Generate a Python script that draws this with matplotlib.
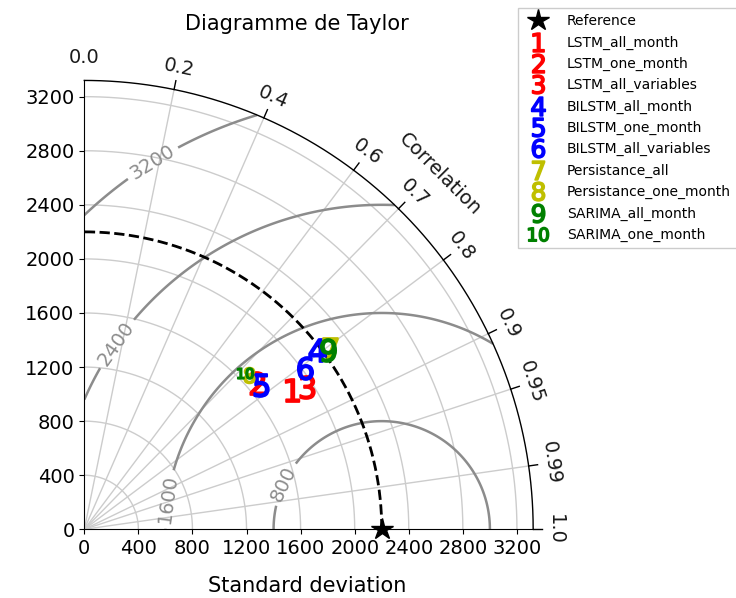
import numpy as np
import matplotlib
matplotlib.use("Agg")
import matplotlib.pyplot as plt
from matplotlib.lines import Line2D

ref_std = 2200.0
axis_max = 3320.0
model_names = ["LSTM_all_month", "LSTM_one_month", "LSTM_all_variables",
               "BILSTM_all_month", "BILSTM_one_month", "BILSTM_all_variables",
               "Persistance_all", "Persistance_one_month",
               "SARIMA_all_month", "SARIMA_one_month"]
model_std = [1848, 1672, 1955, 2173, 1685, 2019, 2251, 1671, 2240, 1655]
model_cor = [0.830, 0.764, 0.842, 0.792, 0.774, 0.808, 0.806, 0.731, 0.806, 0.717]
model_colors = ["r", "r", "r", "b", "b", "b", "y", "y", "g", "g"]

std_ticks = [0, 400, 800, 1200, 1600, 2000, 2400, 2800, 3200]
cor_ticks = [0.0, 0.2, 0.4, 0.6, 0.7, 0.8, 0.9, 0.95, 0.99, 1.0]
rms_levels = [800, 1600, 2400, 3200]
rms_label_angles = [155, 172, 145, 122]  # angle (deg) autour de la reference

fig = plt.figure(figsize=(7.36, 5.98), dpi=100)
lim = 3400
scale = 0.1352  # px par unite
ax = fig.add_axes([84.3 / 736, (598 - 529.3) / 598, lim * scale / 736, lim * scale / 598])
ax.set_xlim(0, lim)
ax.set_ylim(0, lim)
ax.spines["top"].set_visible(False)
ax.spines["right"].set_visible(False)
ax.spines["left"].set_bounds(0, axis_max)
ax.spines["bottom"].set_bounds(0, axis_max)
ax.set_xticks(std_ticks)
ax.set_yticks(std_ticks)
ax.tick_params(labelsize=14)

theta = np.linspace(0, np.pi / 2, 300)

# arcs d'ecart type
for s in std_ticks[1:]:
    ax.plot(s * np.cos(theta), s * np.sin(theta), color="0.8", lw=1, zorder=1)

# lignes de correlation
for c in cor_ticks[1:-1]:
    a = np.arccos(c)
    ax.plot([0, axis_max * np.cos(a)], [0, axis_max * np.sin(a)], color="0.8", lw=1, zorder=1)

# contours RMSD
rho = np.linspace(0, axis_max, 300)
R, T = np.meshgrid(rho, theta)
X = R * np.cos(T)
Y = R * np.sin(T)
rms = np.sqrt(ref_std ** 2 + R ** 2 - 2 * ref_std * R * np.cos(T))
cs = ax.contour(X, Y, rms, levels=rms_levels, colors="0.55", linewidths=1.8, zorder=2)
pos = [(ref_std + l * np.cos(np.radians(a)), l * np.sin(np.radians(a)))
       for l, a in zip(rms_levels, rms_label_angles)]
ax.clabel(cs, inline=True, fontsize=14, fmt="%d", manual=pos)

# arc exterieur et graduations de correlation
ax.plot(axis_max * np.cos(theta), axis_max * np.sin(theta), color="k", lw=1, clip_on=False)
for c in cor_ticks:
    a = np.arccos(c)
    if c > 0:
        ax.plot([axis_max * np.cos(a), 1.02 * axis_max * np.cos(a)],
                [axis_max * np.sin(a), 1.02 * axis_max * np.sin(a)],
                color="k", lw=1, clip_on=False)
    ax.text(1.05 * axis_max * np.cos(a), 1.05 * axis_max * np.sin(a), "%g" % c if c not in (0, 1) else "%.1f" % c,
            rotation=np.degrees(a) - 90, ha="center", va="center", fontsize=14, color="0.1")
ax.text(1.12 * axis_max * np.cos(np.pi / 4), 1.12 * axis_max * np.sin(np.pi / 4), "Correlation",
        rotation=-45, ha="center", va="center", fontsize=14, color="0.1")

# arc de la reference
ax.plot(ref_std * np.cos(theta), ref_std * np.sin(theta), "k--", lw=2, zorder=3)
ax.plot(ref_std, 0, "k*", ms=16, clip_on=False, zorder=6)

# modeles
for i, (s, c, col) in enumerate(zip(model_std, model_cor, model_colors)):
    ms = 16.5 if i not in (7, 9) else 11.3
    ax.plot(s * c, s * np.sqrt(1 - c ** 2), marker="$%d$" % (i + 1), color=col,
            ms=ms, mew=1.3, ls="none", zorder=5)

handles = [Line2D([], [], marker="*", color="k", ms=16, ls="none")]
for i, col in enumerate(model_colors):
    handles.append(Line2D([], [], marker="$%d$" % (i + 1), color=col,
                          ms=13.5 if i < 9 else 14.5, mew=1.2, ls="none"))
fig.legend(handles, ["Reference"] + model_names, loc="upper right",
           bbox_to_anchor=(737 / 736, 1 - 8 / 598), borderaxespad=0, fontsize=10,
           labelspacing=0.52, handletextpad=1.05, borderpad=0.45, fancybox=False,
           edgecolor="0.8", framealpha=1)

ax.set_xlabel("Standard deviation", fontsize=15)
ax.xaxis.set_label_coords((307 - 84.3) / (lim * scale), -(586 - 529.3) / (lim * scale), transform=ax.transAxes)
ax.xaxis.label.set_va("center")
fig.text(297 / 736, 1 - 24 / 598, "Diagramme de Taylor", ha="center", va="center", fontsize=15)

fig.savefig("out.png", dpi=100)
